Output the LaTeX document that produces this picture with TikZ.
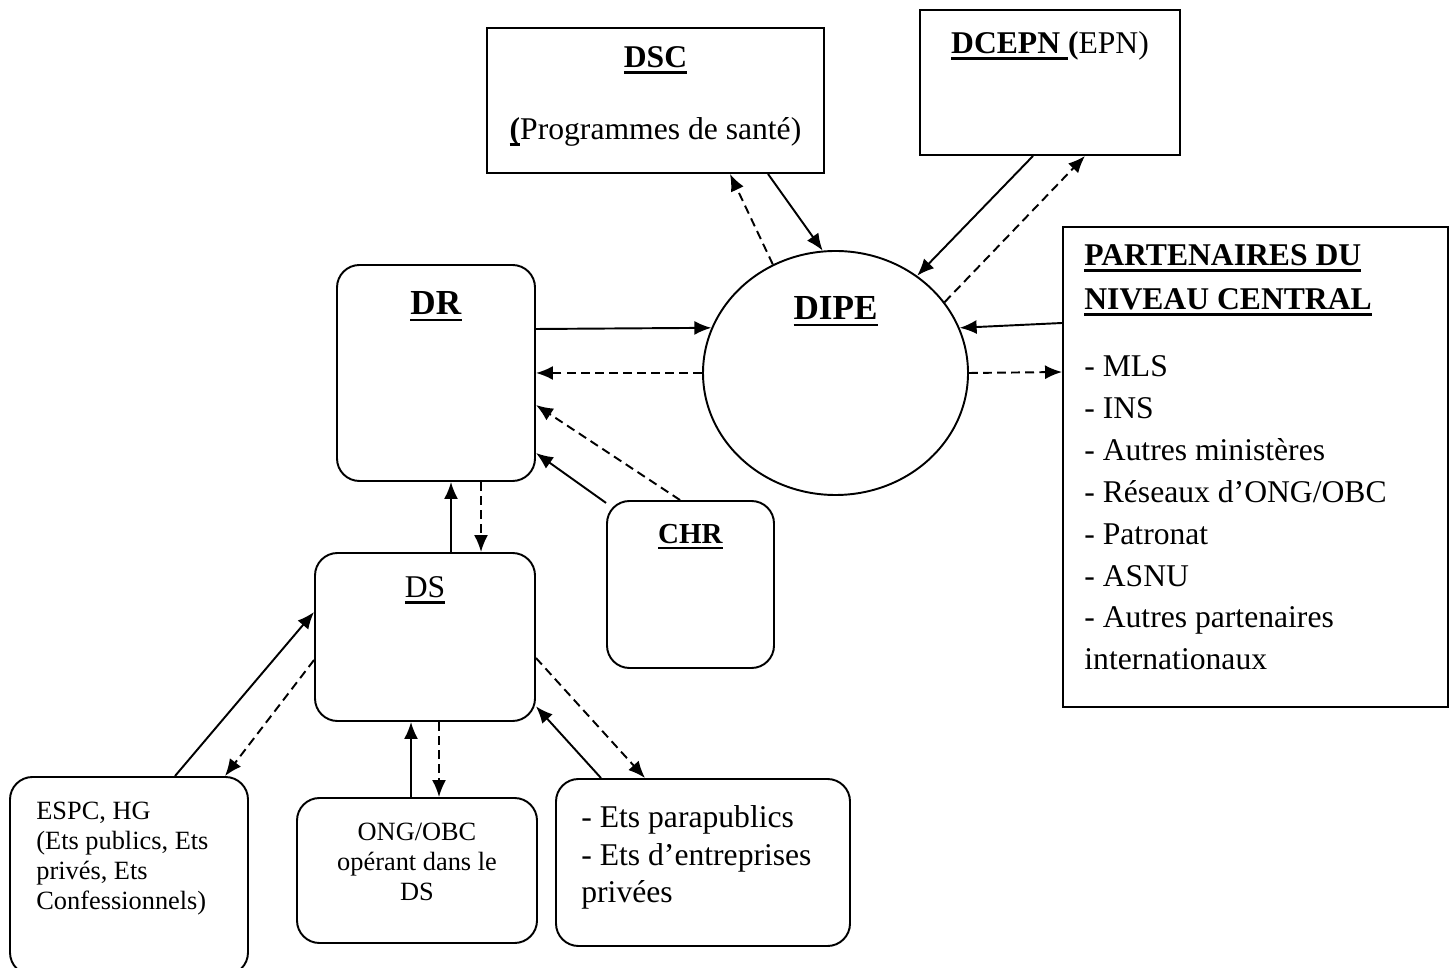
\documentclass[tikz,border=0pt]{standalone}
\usepackage{fontspec}
\setmainfont{Liberation Serif}
\usetikzlibrary{positioning,shapes.geometric,arrows.meta}
\newcommand{\souligne}[1]{\setbox0\hbox{#1}\rlap{\rule[-0.2em]{\wd0}{1.3pt}}\box0}
\tikzstyle{box}      = [rectangle, draw=black, line width=1.1pt, inner sep=0pt]
\tikzstyle{roundbox} = [box, rounded corners=0.45cm]
\tikzstyle{oval}     = [ellipse, draw=black, line width=1.1pt, inner sep=0pt]
\tikzstyle{txt}      = [inner sep=0pt]
\tikzstyle{flow}     = [line width=1.1pt, -{Latex[length=0.34cm,width=0.28cm]}]
\tikzstyle{retour}   = [flow, dash pattern=on 5pt off 3pt]

\begin{document}
\begin{tikzpicture}
    \useasboundingbox (0,0) rectangle (29.08,19.34);

    % niveau central
    \node[box, minimum width=6.74cm, minimum height=2.9cm] (dsc) at (13.11,17.33) {};
    \node[box, minimum width=5.2cm, minimum height=2.9cm] (dcepn) at (21.0,17.69) {};
    \node[oval, minimum width=5.3cm, minimum height=4.88cm] (dipe) at (16.71,11.88) {};
    \node[box, minimum width=7.7cm, minimum height=9.6cm] (part) at (25.11,10.0) {};

    % niveau regional et district
    \node[roundbox, minimum width=3.96cm, minimum height=4.32cm] (dr) at (8.72,11.88) {};
    \node[roundbox, minimum width=4.4cm, minimum height=3.36cm] (ds) at (8.5,6.6) {};
    \node[roundbox, minimum width=3.34cm, minimum height=3.34cm] (chr) at (13.81,7.65) {};

    % structures du district
    \node[roundbox, minimum width=4.76cm, minimum height=3.96cm] (espc) at (2.58,1.82) {};
    \node[roundbox, minimum width=4.8cm, minimum height=2.9cm] (ong) at (8.34,1.93) {};
    \node[roundbox, minimum width=5.88cm, minimum height=3.34cm] (ets) at (14.06,2.09) {};

    % textes
    \node[txt, below=0.38cm of dsc.north, font=\fontsize{18}{21.6}\selectfont] (dsctitle) {\souligne{\textbf{DSC}}};
    \node[txt, below=1.8cm of dsc.north, font=\fontsize{18}{21.6}\selectfont] (dscprog) {\souligne{\textbf{(}}Programmes de santé)};
    \node[txt, below=0.44cm of dcepn.north, font=\fontsize{18}{21.6}\selectfont] (dcepntitle) {\souligne{\textbf{DCEPN\ }}\textbf{(}EPN)};
    \node[txt, below=0.92cm of dipe.north, font=\fontsize{20}{24}\selectfont] (dipetitle) {\souligne{\textbf{DIPE}}};
    \node[txt, below=0.54cm of dr.north, font=\fontsize{20}{24}\selectfont] (drtitle) {\souligne{\textbf{DR}}};
    \node[txt, below=0.48cm of ds.north, font=\fontsize{18}{21.6}\selectfont] (dstitle) {\souligne{DS}};
    \node[txt, below=0.48cm of chr.north, font=\fontsize{16.5}{20}\selectfont] (chrtitle) {\souligne{\textbf{CHR}}};
    \node[txt, below right=0.36cm and 0.44cm of part.north west, align=left, font=\fontsize{18}{23.8}\selectfont] (parttext)
        {\souligne{\textbf{PARTENAIRES DU}}\\[1.2pt]
         \souligne{\textbf{NIVEAU CENTRAL}}\\[14.7pt]
         - MLS\\
         - INS\\
         - Autres ministères\\
         - Réseaux d’ONG/OBC\\
         - Patronat\\
         - ASNU\\
         - Autres partenaires\\
         internationaux};
    \node[txt, below right=0.52cm and 0.54cm of espc.north west, align=left, font=\fontsize{15}{17}\selectfont] (espctext)
        {ESPC, HG\\(Ets publics, Ets\\privés, Ets\\Confessionnels)};
    \node[txt, below=0.52cm of ong.north, align=center, font=\fontsize{15}{17}\selectfont] (ongtext)
        {ONG/OBC\\opérant dans le\\DS};
    \node[txt, below right=0.54cm and 0.52cm of ets.north west, align=left, font=\fontsize{18}{21.5}\selectfont] (etstext)
        {- Ets parapublics\\- Ets d’entreprises\\privées};

    % flux
    \draw[flow] ([xshift=2.25cm]dsc.south) -- (dipe.96);
    \draw[retour] (dipe.120) -- ([xshift=1.49cm]dsc.south);
    \draw[flow] ([xshift=-0.34cm]dcepn.south) -- (dipe.50);
    \draw[retour] (dipe.33) -- ([xshift=0.7cm]dcepn.south);
    \draw[flow] ([yshift=0.88cm]dr.east) -- (dipe.160);
    \draw[retour] (dipe.west) -- (dr.east);
    \draw[flow] ([yshift=2.88cm]part.west) -- (dipe.20);
    \draw[retour] (dipe.east) -- ([yshift=1.9cm]part.west);
    \draw[retour] ([xshift=-0.21cm]chr.north) -- ([yshift=-0.64cm]dr.east);
    \draw[flow] (chr.136) -- ([yshift=-1.6cm]dr.east);
    \draw[flow] ([xshift=0.52cm]ds.north) -- ([xshift=0.52cm]ds.north |- dr.south);
    \draw[retour] ([xshift=1.12cm]ds.north |- dr.south) -- ([xshift=1.12cm]ds.north);
    \draw[flow] ([xshift=0.92cm]espc.north) -- ([yshift=0.5cm]ds.west);
    \draw[retour] ([yshift=-0.46cm]ds.west) -- ([xshift=1.92cm]espc.north);
    \draw[flow] ([xshift=-0.12cm]ong.north) -- ([xshift=-0.12cm]ong.north |- ds.south);
    \draw[retour] ([xshift=0.44cm]ong.north |- ds.south) -- ([xshift=0.44cm]ong.north);
    \draw[flow] ([xshift=-2.04cm]ets.north) -- (ds.-32);
    \draw[retour] ([yshift=-0.42cm]ds.east) -- ([xshift=-1.16cm]ets.north);
\end{tikzpicture}
\end{document}
